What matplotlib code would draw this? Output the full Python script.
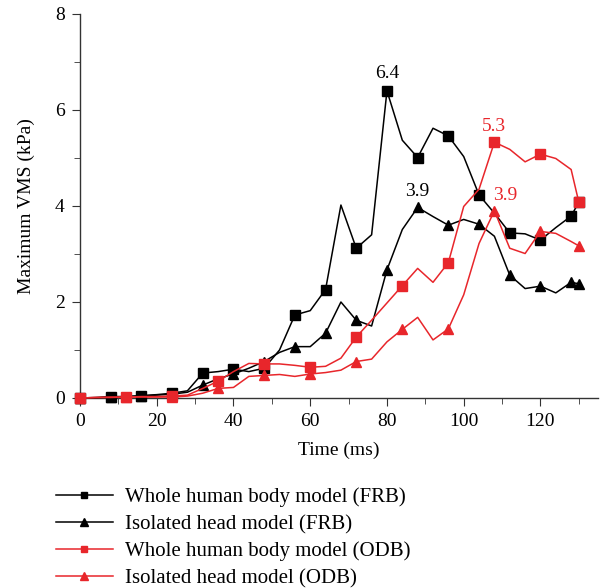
import matplotlib
matplotlib.use("Agg")
import matplotlib.pyplot as plt
from matplotlib.ticker import MultipleLocator

# time axis (ms), data sampled every 4 ms, last point at 130 ms
time = [0, 4, 8, 12, 16, 20, 24, 28, 32, 36, 40, 44, 48, 52, 56, 60, 64, 68, 72, 76,
        80, 84, 88, 92, 96, 100, 104, 108, 112, 116, 120, 124, 128, 130]

whole_frb = [0, 0.0, 0.02, 0.03, 0.05, 0.07, 0.1, 0.15, 0.52, 0.55, 0.6, 0.55, 0.62, 1.0,
             1.73, 1.82, 2.26, 4.02, 3.12, 3.4, 6.4, 5.37, 5.01, 5.62, 5.46, 5.03, 4.23,
             3.85, 3.44, 3.42, 3.29, 3.55, 3.79, 4.08]
head_frb = [0, 0.01, 0.03, 0.03, 0.04, 0.06, 0.08, 0.12, 0.27, 0.4, 0.5, 0.62, 0.76, 0.95,
            1.07, 1.07, 1.35, 2.0, 1.62, 1.5, 2.67, 3.51, 3.97, 3.78, 3.6, 3.72, 3.62,
            3.37, 2.56, 2.28, 2.33, 2.19, 2.41, 2.38]
whole_odb = [0, 0.01, 0.02, 0.02, 0.03, 0.03, 0.04, 0.06, 0.2, 0.35, 0.55, 0.72, 0.71, 0.71,
             0.68, 0.64, 0.66, 0.83, 1.27, 1.62, 1.98, 2.34, 2.7, 2.41, 2.82, 3.99, 4.35,
             5.33, 5.18, 4.92, 5.08, 4.99, 4.76, 4.08]
head_odb = [0, 0.01, 0.01, 0.02, 0.02, 0.02, 0.02, 0.04, 0.1, 0.2, 0.22, 0.45, 0.47, 0.49,
            0.45, 0.5, 0.53, 0.58, 0.76, 0.81, 1.17, 1.43, 1.68, 1.21, 1.44, 2.15, 3.22,
            3.9, 3.12, 3.01, 3.47, 3.43, 3.26, 3.17]

labels = ["Whole human body model (FRB)", "Isolated head model (FRB)",
          "Whole human body model (ODB)", "Isolated head model (ODB)"]

# (x, y, text, colour, x-offset pt, y-offset pt)
annotations = [(80, 6.4, "6.4", "black", 0, 6), (88, 3.97, "3.9", "black", 0, 5),
               (108, 5.33, "5.3", "red", 0, 5), (108, 3.9, "3.9", "red", 8, 5)]

RED = "#e8262b"
plt.rcParams["font.family"] = ["Liberation Serif", "DejaVu Serif"]

fig = plt.figure(figsize=(6.04, 5.88), dpi=100)
ax = fig.add_axes([80 / 604, 190 / 588, (598 - 80) / 604, (398 - 14) / 588])

black_marks = list(range(0, 33, 2)) + [33]
red_marks = list(range(0, 31, 3)) + [33]

common = dict(lw=1.1, clip_on=False, zorder=3)
ax.plot(time, whole_frb, color="black", marker="s", ms=6.5, markevery=black_marks,
        label=labels[0], **common)
ax.plot(time, head_frb, color="black", marker="^", ms=7, markevery=black_marks,
        label=labels[1], **common)
ax.plot(time, whole_odb, color=RED, marker="s", ms=6.5, markevery=red_marks,
        label=labels[2], **common)
ax.plot(time, head_odb, color=RED, marker="^", ms=7, markevery=red_marks,
        label=labels[3], **common)

for x, y, txt, c, dx, dy in annotations:
    ax.annotate(txt, (x, y), xytext=(dx, dy), textcoords="offset points", ha="center",
                va="bottom", fontsize=14, color=(RED if c == "red" else "black"))

ax.set_xlim(0, 135)
ax.set_ylim(0, 8)
ax.xaxis.set_major_locator(MultipleLocator(20))
ax.xaxis.set_minor_locator(MultipleLocator(10))
ax.yaxis.set_major_locator(MultipleLocator(2))
ax.yaxis.set_minor_locator(MultipleLocator(1))
for s in ["top", "right"]:
    ax.spines[s].set_visible(False)
for s in ["left", "bottom"]:
    ax.spines[s].set_color("#333333")
    ax.spines[s].set_linewidth(1.0)
ax.tick_params(which="major", length=6, labelsize=14, direction="out", colors="#333333",
               labelcolor="black", pad=5)
ax.tick_params(which="minor", length=4, direction="out", colors="#333333")
ax.set_xlabel("Time (ms)", fontsize=14, labelpad=8)
ax.set_ylabel("Maximum VMS (kPa)", fontsize=14, labelpad=14)

handles, labs = ax.get_legend_handles_labels()
fig.legend(handles, labs, loc="upper left", bbox_to_anchor=(48 / 604, 1 - 479 / 588),
           frameon=False, fontsize=15, handlelength=2.7, labelspacing=0.36,
           handletextpad=0.6, markerscale=0.75, borderaxespad=0)

fig.savefig("out.png", dpi=100)
